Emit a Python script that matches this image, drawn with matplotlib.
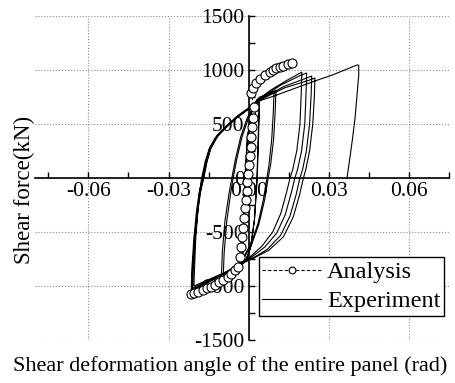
import matplotlib
matplotlib.use('Agg')
import matplotlib.pyplot as plt

plt.rcParams['font.family'] = ['Liberation Serif', 'DejaVu Serif']
plt.rcParams['axes.unicode_minus'] = False

# experiment: small cycles (about +-0.004 rad)
exp_a_x = [0.0, 0.0008, 0.0016, 0.0026, 0.0040, 0.0036, 0.0031, 0.0022, 0.0008, -0.0010, -0.0022,
           -0.0019, -0.0013, -0.0004, 0.0012, 0.0030, 0.0041, 0.0037, 0.0032, 0.0021, 0.0006, -0.0012,
           -0.0024, -0.0020, -0.0014, -0.0005, 0.0012, 0.0030, 0.0042]
exp_a_y = [0, 200, 420, 620, 740, 400, 0, -380, -640, -760, -790,
           -420, 0, 380, 620, 720, 745, 380, 0, -400, -650, -770,
           -800, -400, 0, 380, 620, 720, 750]

# experiment: medium cycles (about +-0.01 rad)
exp_b_x = [0.0065, 0.0095,
           0.0092, 0.0086, 0.0076, 0.0068, 0.0055, 0.0035, 0.0010, -0.0020, -0.0060, -0.0095,
           -0.0092, -0.0082, -0.0068, -0.0058, -0.0045, -0.0025, 0.0000, 0.0030, 0.0065, 0.0102,
           0.0099, 0.0093, 0.0082, 0.0073, 0.0060, 0.0038, 0.0012, -0.0020, -0.0060, -0.0102,
           -0.0099, -0.0089, -0.0074, -0.0063, -0.0050, -0.0030, -0.0005, 0.0030]
exp_b_y = [770, 795,
           600, 350, 120, 0, -200, -420, -600, -740, -850, -900,
           -700, -400, -150, 0, 170, 380, 560, 710, 775, 810,
           600, 350, 120, 0, -200, -430, -610, -750, -860, -920,
           -700, -400, -150, 0, 170, 380, 560, 715]

# experiment: large cycles (about +-0.02 rad)
exp_c_x = [0.0080, 0.0140, 0.0180, 0.0199,
           0.0197, 0.0192, 0.0180, 0.0165, 0.0155, 0.0140, 0.0120, 0.0090, 0.0050, 0.0010, -0.0030, -0.0090, -0.0150, -0.0215,
           -0.0213, -0.0205, -0.0195, -0.0185, -0.0172, -0.0160, -0.0145, -0.0120, -0.0085, -0.0045, 0.0000, 0.0040, 0.0120, 0.0190, 0.0217,
           0.0215, 0.0210, 0.0198, 0.0183, 0.0173, 0.0158, 0.0137, 0.0105, 0.0060, 0.0015, -0.0030, -0.0090, -0.0150, -0.0212,
           -0.0210, -0.0202, -0.0192, -0.0182, -0.0168, -0.0156, -0.0141, -0.0116, -0.0081, -0.0041, 0.0003, 0.0040, 0.0130, 0.0210, 0.0236,
           0.0234, 0.0228, 0.0216, 0.0202, 0.0192, 0.0177, 0.0155, 0.0120, 0.0070, 0.0020, -0.0030, -0.0090, -0.0150, -0.0210,
           -0.0208, -0.0200, -0.0190, -0.0180, -0.0170, -0.0158, -0.0143, -0.0118, -0.0083, -0.0043, 0.0000, 0.0040, 0.0135, 0.0220, 0.0248,
           0.0246, 0.0240, 0.0228, 0.0214, 0.0205, 0.0190, 0.0167, 0.0130, 0.0075, 0.0020, -0.0030, -0.0090, -0.0150, -0.0205]
exp_c_y = [810, 900, 955, 980,
           800, 500, 250, 80, 0, -150, -330, -500, -630, -720, -790, -880, -960, -1045,
           -850, -550, -300, -130, 0, 150, 280, 390, 480, 570, 650, 730, 860, 945, 972,
           800, 500, 250, 80, 0, -150, -340, -510, -640, -725, -795, -885, -965, -1035,
           -850, -550, -300, -130, 0, 150, 280, 390, 480, 570, 650, 725, 845, 920, 944,
           780, 500, 250, 80, 0, -160, -350, -530, -660, -735, -795, -880, -950, -1020,
           -850, -550, -300, -130, 0, 150, 270, 380, 470, 560, 640, 720, 835, 900, 926,
           760, 500, 250, 80, 0, -160, -360, -545, -670, -740, -795, -875, -940, -1000]

# experiment: final push to 0.042 rad and unloading
exp_f_x = [-0.0203, -0.0198, -0.0190, -0.0184, -0.0176, -0.0163, -0.0148, -0.0125, -0.0090, -0.0050,
           -0.0005, 0.0035, 0.0090, 0.0190, 0.0250, 0.0315, 0.0370, 0.0405, 0.0412,
           0.0412, 0.0405, 0.0398, 0.0388, 0.0378, 0.0368]
exp_f_y = [-850, -550, -300, -130, 0, 150, 270, 370, 460, 550,
           630, 710, 755, 845, 900, 955, 1010, 1046, 1045,
           950, 750, 550, 350, 170, 0]

# analysis
ana_x = [-0.0215, -0.0205, -0.0190, -0.0172, -0.0155, -0.0140, -0.0125, -0.0110, -0.0095,
         -0.0079, -0.0065, -0.0052, -0.0041,
         -0.0034, -0.0030, -0.0026, -0.0022, -0.0018, -0.0014, -0.0011, -0.0008, -0.0005,
         -0.0002, 0.0001, 0.0004, 0.0007, 0.0010, 0.0013, 0.0016, 0.0019,
         0.0010, 0.0018, 0.0029, 0.0041, 0.0060, 0.0079, 0.0092, 0.0104, 0.0117, 0.0129,
         0.0147, 0.0162]
ana_y = [-1072, -1065, -1052, -1037, -1022, -1009, -987, -963, -940,
         -917, -885, -855, -824,
         -730, -640, -550, -460, -370, -280, -200, -120, -40,
         40, 120, 200, 290, 380, 470, 560, 660,
         785, 830, 877, 914, 954, 985, 1002, 1016, 1028, 1037,
         1053, 1068]

exp_x = exp_a_x + exp_b_x + exp_c_x + exp_f_x
exp_y = exp_a_y + exp_b_y + exp_c_y + exp_f_y

fig = plt.figure(figsize=(4.55, 3.83), dpi=100)
ax = fig.add_axes([35 / 455, 43 / 383, 414 / 455, 324 / 383])

ax.plot(ana_x, ana_y, color='black', linestyle=(0, (3, 2)), linewidth=0.8,
        marker='o', markersize=6.5, markerfacecolor='white', markeredgecolor='black',
        markeredgewidth=0.8, label='Analysis', zorder=3)
ax.plot(exp_x, exp_y, color='black', linewidth=0.8, label='Experiment', zorder=2)

ax.set_xlim(-0.08, 0.075)
ax.set_ylim(-1500, 1500)
ax.spines['left'].set_position(('data', 0))
ax.spines['bottom'].set_position(('data', 0))
ax.spines['top'].set_visible(False)
ax.spines['right'].set_visible(False)
ax.spines['left'].set_linewidth(1.2)
ax.spines['bottom'].set_linewidth(1.2)

ax.set_xticks([-0.06, -0.03, 0.0, 0.03, 0.06])
ax.set_xticklabels(['-0.06', '-0.03', '0.00', '0.03', '0.06'])
ax.set_xticks([-0.075, -0.045, -0.015, 0.015, 0.045, 0.075], minor=True)
ax.set_yticks([-1500, -1000, -500, 0, 500, 1000, 1500])
ax.set_yticklabels(['-1500', '-1000', '-500', '0', '500', '1000', '1500'])
ax.set_yticks([-1250, -750, -250, 250, 750, 1250], minor=True)
ax.tick_params(which='both', direction='in', length=4, width=1, labelsize=15.5)
ax.tick_params(axis='x', pad=3)
ax.tick_params(axis='y', pad=3)

ax.grid(True, which='major', linestyle=':', color='#888888', linewidth=0.8)
ax.set_axisbelow(True)

leg = ax.legend(loc='lower right', bbox_to_anchor=(0.988, 0.074), fontsize=17.5,
                frameon=True, fancybox=False, edgecolor='black', framealpha=1,
                handlelength=2.4, handletextpad=0.25, labelspacing=0.3,
                borderpad=0.15, borderaxespad=0, numpoints=1, markerscale=0.75)
leg.get_frame().set_linewidth(1.0)

fig.text(24 / 455, 1 - 190 / 383, 'Shear force(kN)', rotation=90,
         ha='center', va='center', fontsize=16.5)
fig.text(230 / 455, 1 - 366 / 383, 'Shear deformation angle of the entire panel (rad)',
         ha='center', va='center', fontsize=16)

fig.savefig('out.png', dpi=100)
